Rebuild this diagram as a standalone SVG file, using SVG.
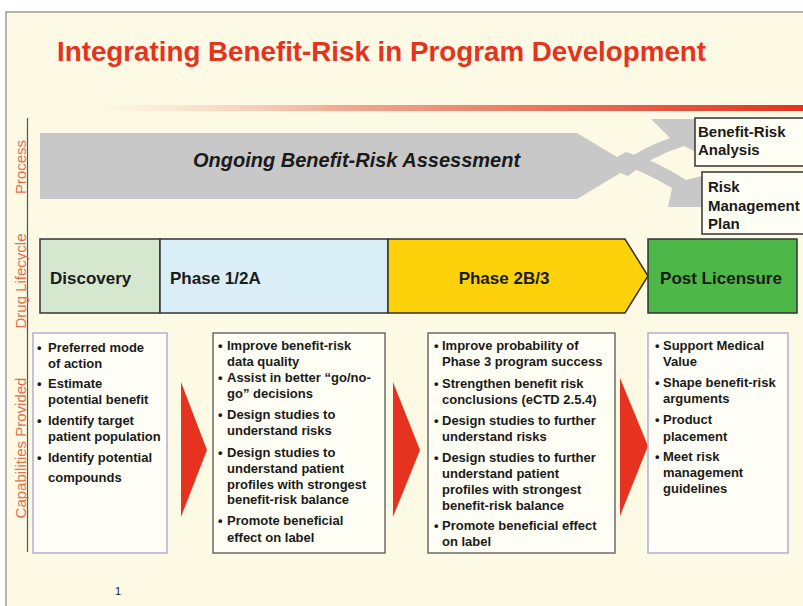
<svg xmlns="http://www.w3.org/2000/svg" width="803" height="606" viewBox="0 0 803 606">
<defs>
<linearGradient id="bar" x1="0" y1="0" x2="1" y2="0">
<stop offset="0" stop-color="#F6C9B6" stop-opacity="0"/>
<stop offset="0.35" stop-color="#F0A88F"/>
<stop offset="1" stop-color="#E2321F"/>
</linearGradient>
<style>
.side{font-family:"Liberation Sans",Arial,sans-serif;font-size:15px;fill:#E3714E;text-anchor:middle}
.ph{font-family:"Liberation Sans",Arial,sans-serif;font-size:17px;font-weight:bold;fill:#1a1a1a}
.bx{font-family:"Liberation Sans",Arial,sans-serif;font-size:13px;font-weight:bold;fill:#1a1a1a}
.out{font-family:"Liberation Sans",Arial,sans-serif;font-size:15px;font-weight:bold;fill:#1a1a1a}
.cap{stroke-width:1.3}
.purple{fill:#FFFEF6;stroke:#A9A2CC}
.dark{fill:#FFFEF4;stroke:#555}
.band{stroke:#333;stroke-width:1.5}
.tri{fill:#E6331F}
.gray{fill:#C8C8C8}
</style>
</defs>
<rect x="0" y="0" width="803" height="606" fill="#FFFFFF"/>
<rect x="6" y="12" width="800" height="600" fill="#FCF9E4" stroke="#9A9A9A" stroke-width="1.5"/>
<text x="57" y="61" font-family="'Liberation Sans',Arial,sans-serif" font-size="28" font-weight="bold" fill="#E2341F" textLength="649" lengthAdjust="spacingAndGlyphs">Integrating Benefit-Risk in Program Development</text>
<rect x="100" y="105" width="703" height="6" fill="url(#bar)"/>
<line x1="27.5" y1="118" x2="27.5" y2="552" stroke="#555" stroke-width="1.2"/>
<text class="side" transform="translate(26,167) rotate(-90)">Process</text>
<text class="side" transform="translate(26,281) rotate(-90)">Drug Lifecycle</text>
<text class="side" transform="translate(26,448) rotate(-90)">Capabilities Provided</text>

<g id="process">
<polygon class="gray" points="40,133 577,133 632,166 577,199 40,199"/>
<text x="193" y="167" font-family="'Liberation Sans',Arial,sans-serif" font-size="20" font-weight="bold" font-style="italic" fill="#1a1a1a">Ongoing Benefit-Risk Assessment</text>
</g>

<g id="connectors">
<path class="gray" d="M612,170 Q640,148 670,138 L651,119 L700,119 L700,154 L684,146 Q652,156 628,176 Z"/>
<path class="gray" d="M612,160 Q645,172 672,188 L668,207 L702,207 L702,176 L686,180 Q655,160 626,152 Z"/>
<polygon class="tri" points="181,382 207,450 181,517"/>
<polygon class="tri" points="393,382 420,450 393,517"/>
<polygon class="tri" points="620,378 648,446 620,516"/>
</g>

<g id="benefit-risk-analysis">
<rect x="695" y="118" width="112" height="48" fill="#FFFEF4" stroke="#333" stroke-width="1.5"/>
<text class="out" x="698" y="137">Benefit-Risk</text>
<text class="out" x="698" y="155">Analysis</text>
</g>
<g id="risk-management-plan">
<rect x="702" y="172" width="105" height="62" fill="#FFFEF4" stroke="#333" stroke-width="1.5"/>
<text class="out" x="708" y="192">Risk</text>
<text class="out" x="708" y="211">Management</text>
<text class="out" x="708" y="229">Plan</text>
</g>

<g id="discovery">
<rect class="band" x="40" y="239" width="120" height="74" fill="#D5E7CF"/>
<text class="ph" x="50" y="284">Discovery</text>
</g>
<g id="phase-1-2a">
<rect class="band" x="160" y="239" width="228" height="74" fill="#D9EEF7"/>
<text class="ph" x="170" y="284">Phase 1/2A</text>
</g>
<g id="phase-2b-3">
<polygon class="band" points="388,239 625,239 648,276 625,313 388,313" fill="#FED20A"/>
<text class="ph" x="504" y="284" text-anchor="middle">Phase 2B/3</text>
</g>
<g id="post-licensure">
<rect class="band" x="648" y="239" width="149" height="74" fill="#4DB848"/>
<text class="ph" x="721" y="284" text-anchor="middle">Post Licensure</text>
</g>

<g id="cap-discovery">
<rect class="purple cap" x="33" y="333" width="134" height="220"/>
<g class="bx">
<text x="37" y="352">•</text><text x="48" y="352">Preferred mode</text>
<text x="48" y="368">of action</text>
<text x="37" y="388">•</text><text x="48" y="388">Estimate</text>
<text x="48" y="404">potential benefit</text>
<text x="37" y="425">•</text><text x="48" y="425">Identify target</text>
<text x="48" y="441">patient population</text>
<text x="37" y="462">•</text><text x="48" y="462">Identify potential</text>
<text x="48" y="482">compounds</text>
</g>
</g>

<g id="cap-phase-1-2a">
<rect class="dark cap" x="213" y="333" width="172" height="220"/>
<g class="bx">
<text x="218" y="350">•</text><text x="227" y="350">Improve benefit-risk</text>
<text x="227" y="366">data quality</text>
<text x="218" y="382">•</text><text x="227" y="382">Assist in better “go/no-</text>
<text x="227" y="398">go” decisions</text>
<text x="218" y="419">•</text><text x="227" y="419">Design studies to</text>
<text x="227" y="435">understand risks</text>
<text x="218" y="457">•</text><text x="227" y="457">Design studies to</text>
<text x="227" y="473">understand patient</text>
<text x="227" y="489">profiles with strongest</text>
<text x="227" y="504">benefit-risk balance</text>
<text x="218" y="525">•</text><text x="227" y="525">Promote beneficial</text>
<text x="227" y="542">effect on label</text>
</g>
</g>

<g id="cap-phase-2b-3">
<rect class="dark cap" x="428" y="333" width="187" height="220"/>
<g class="bx">
<text x="434" y="350">•</text><text x="442" y="350">Improve probability of</text>
<text x="442" y="366">Phase 3 program success</text>
<text x="434" y="388">•</text><text x="442" y="388">Strengthen benefit risk</text>
<text x="442" y="404">conclusions (eCTD 2.5.4)</text>
<text x="434" y="425">•</text><text x="442" y="425">Design studies to further</text>
<text x="442" y="441">understand risks</text>
<text x="434" y="462">•</text><text x="442" y="462">Design studies to further</text>
<text x="442" y="478">understand patient</text>
<text x="442" y="494">profiles with strongest</text>
<text x="442" y="510">benefit-risk balance</text>
<text x="434" y="530">•</text><text x="442" y="530">Promote beneficial effect</text>
<text x="442" y="546">on label</text>
</g>
</g>

<g id="cap-post-licensure">
<rect class="purple cap" x="648" y="333" width="140" height="220"/>
<g class="bx">
<text x="655" y="350">•</text><text x="663" y="350">Support Medical</text>
<text x="663" y="366">Value</text>
<text x="655" y="387">•</text><text x="663" y="387">Shape benefit-risk</text>
<text x="663" y="403">arguments</text>
<text x="655" y="424">•</text><text x="663" y="424">Product</text>
<text x="663" y="441">placement</text>
<text x="655" y="461">•</text><text x="663" y="461">Meet risk</text>
<text x="663" y="477">management</text>
<text x="663" y="493">guidelines</text>
</g>
</g>

<text x="115" y="595" font-family="'Liberation Sans',Arial,sans-serif" font-size="11" fill="#1a1a1a">1</text>
</svg>
